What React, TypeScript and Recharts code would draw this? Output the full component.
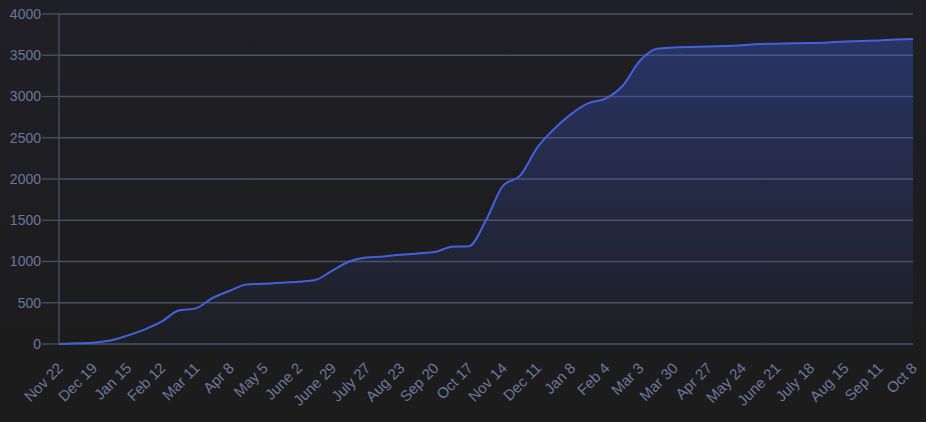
import React from "react"
import { Area, AreaChart, CartesianGrid, XAxis, YAxis } from "recharts"

const dateLabels = [
  "Nov 22", "Dec 19", "Jan 15", "Feb 12", "Mar 11", "Apr 8", "May 5", "June 2",
  "June 29", "July 27", "Aug 23", "Sep 20", "Oct 17", "Nov 14", "Dec 11", "Jan 8",
  "Feb 4", "Mar 3", "Mar 30", "Apr 27", "May 24", "June 21", "July 18", "Aug 15",
  "Sep 11", "Oct 8",
]

// cumulative total, sampled at every label and halfway between labels
const totals = [
  0, 8, 15, 42, 102, 175, 270, 405, 432, 560,
  645, 722, 730, 742, 755, 775, 890, 1000, 1048, 1060,
  1082, 1098, 1115, 1178, 1185, 1500, 1920, 2040, 2380, 2610,
  2790, 2920, 2975, 3130, 3430, 3578, 3593, 3600, 3605, 3612,
  3622, 3636, 3640, 3644, 3648, 3655, 3668, 3672, 3680, 3692,
  3697,
]

const yTicks = [0, 500, 1000, 1500, 2000, 2500, 3000, 3500, 4000]

const data = totals.map((total, i) => ({ pos: i / 2, total }))
const xTicks = dateLabels.map((_, i) => i)

const font = "'Liberation Sans', Arial, Helvetica, sans-serif"
const tickColor = "#6b789c"
const gridColor = "#4b5068"

function DateTick({ x, y, payload }: any) {
  const ax = x + 5
  const ay = y + 25
  return (
    <text
      x={ax}
      y={ay}
      textAnchor="end"
      transform={`rotate(-45 ${ax} ${ay})`}
      fill={tickColor}
      fontSize={15}
      fontFamily={font}
    >
      {dateLabels[payload.value]}
    </text>
  )
}

export default function App() {
  return (
    <div
      style={{
        position: "absolute",
        left: 0,
        top: 0,
        width: 926,
        height: 422,
        background: "linear-gradient(#1f1f25, #1c1c1c)",
      }}
    >
      <AreaChart width={926} height={422} data={data} margin={{ top: 14, right: 13, left: 0, bottom: 0 }}>
        <defs>
          <linearGradient id="fillTotal" x1="0" y1="0" x2="0" y2="1">
            <stop offset="0%" stopColor="#3d5bd9" stopOpacity={0.6} />
            <stop offset="100%" stopColor="#3d5bd9" stopOpacity={0.04} />
          </linearGradient>
        </defs>
        <CartesianGrid vertical={false} stroke={gridColor} strokeWidth={1.3} />
        <XAxis
          dataKey="pos"
          type="number"
          domain={[0, 25]}
          ticks={xTicks}
          interval={0}
          height={78}
          axisLine={false}
          tickLine={false}
          tickSize={0}
          tickMargin={0}
          tick={<DateTick />}
        />
        <YAxis
          domain={[0, 4000]}
          ticks={yTicks}
          width={59}
          interval={0}
          axisLine={{ stroke: gridColor, strokeWidth: 1.3 }}
          tickLine={{ stroke: gridColor, strokeWidth: 1.3 }}
          tickSize={17}
          tickMargin={1}
          tick={{ fill: tickColor, fontSize: 14, fontFamily: font }}
        />
        <Area
          type="monotone"
          dataKey="total"
          stroke="#4262dc"
          strokeWidth={2}
          fill="url(#fillTotal)"
          isAnimationActive={false}
          dot={false}
          activeDot={false}
        />
      </AreaChart>
    </div>
  )
}
